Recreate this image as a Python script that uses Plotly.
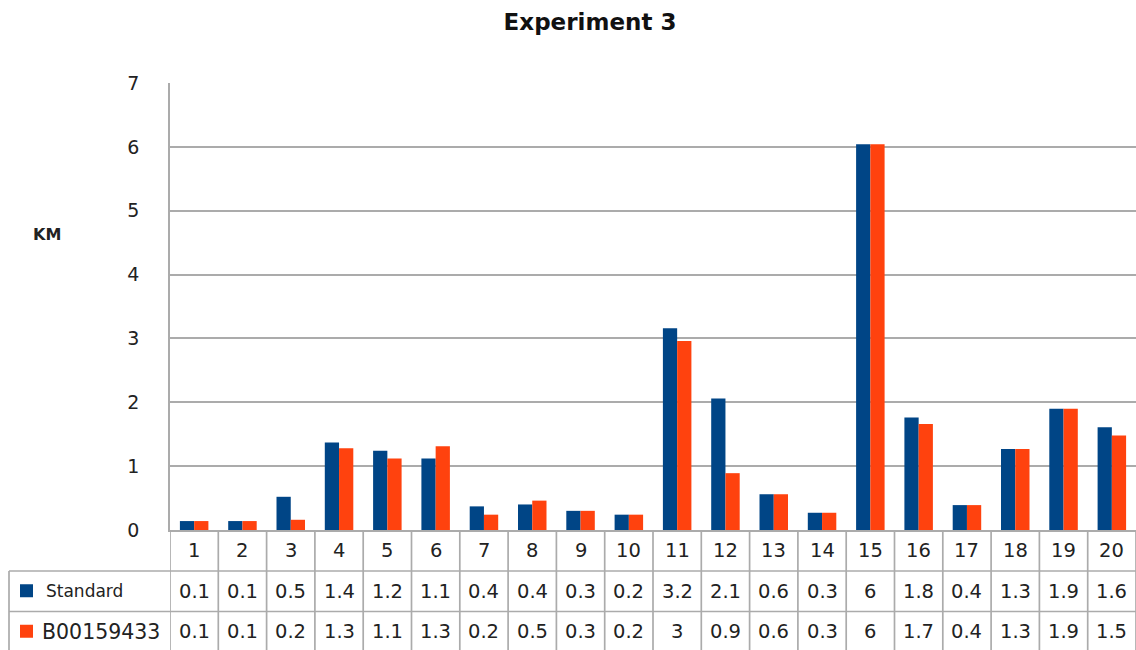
import plotly.graph_objects as go

categories = [str(i) for i in range(1, 21)]
series_names = ["Standard", "B00159433"]
standard = [0.14, 0.14, 0.52, 1.37, 1.24, 1.12, 0.37, 0.40, 0.30, 0.24,
            3.16, 2.06, 0.56, 0.27, 6.04, 1.76, 0.39, 1.27, 1.90, 1.61]
b00159433 = [0.14, 0.14, 0.16, 1.28, 1.12, 1.31, 0.24, 0.46, 0.30, 0.24,
             2.96, 0.89, 0.56, 0.27, 6.04, 1.66, 0.39, 1.27, 1.90, 1.48]
y_ticks = [0, 1, 2, 3, 4, 5, 6, 7]
colors = ["#004586", "#ff420e"]

W, H = 1136, 650
L, R, T, B = 170, 0, 83, 120
plot_h = H - T - B
plot_w = W - L - R
GRID = "#ababab"
TXT = "#222222"
FONT = "DejaVu Sans"


def py(px):
    """pixel y -> paper y"""
    return (H - B - px) / plot_h


def px_x(px):
    return (px - L) / plot_w


fig = go.Figure()
for name, vals, c in zip(series_names, [standard, b00159433], colors):
    fig.add_trace(go.Bar(x=categories, y=vals, name=name, marker_color=c,
                         marker_line_width=0, showlegend=False))

shapes = []
annotations = []

# table rows: header (categories), Standard, B00159433
row_edges = [530, 571, 611.5, 652]
row_centers = [(row_edges[i] + row_edges[i + 1]) / 2 for i in range(3)]

# horizontal table lines
for ye in row_edges[1:3]:
    shapes.append(dict(type="line", xref="paper", yref="paper",
                       x0=px_x(9), x1=1.0, y0=py(ye), y1=py(ye),
                       line=dict(color=GRID, width=1.7)))
# left border of label column
shapes.append(dict(type="line", xref="paper", yref="paper",
                   x0=px_x(9), x1=px_x(9), y0=py(row_edges[1]), y1=py(H + 2),
                   line=dict(color=GRID, width=1.7)))
# vertical lines at category boundaries (below the plot)
n = len(categories)
for k in range(n + 1):
    shapes.append(dict(type="line", xref="x", yref="paper",
                       x0=k - 0.5, x1=k - 0.5, y0=0, y1=py(H + 2),
                       line=dict(color=GRID, width=1.7)))

# header row: category labels
for k, c in enumerate(categories):
    annotations.append(dict(x=k, y=py(row_centers[0]), xref="x", yref="paper",
                            text=c, showarrow=False, xanchor="center", yanchor="middle",
                            font=dict(family=FONT, size=19.5, color=TXT)))
# value rows
for r, vals in enumerate([standard, b00159433]):
    for k, v in enumerate(vals):
        annotations.append(dict(x=k, y=py(row_centers[r + 1]), xref="x", yref="paper",
                                text=f"{round(v, 1):g}", showarrow=False,
                                xanchor="center", yanchor="middle",
                                font=dict(family=FONT, size=19.5, color=TXT)))

# legend keys in table
label_x = [44, 40]
label_size = [17, 20.5]
for r, (name, c) in enumerate(zip(series_names, colors)):
    yc = row_centers[r + 1]
    shapes.append(dict(type="rect", xref="paper", yref="paper",
                       x0=px_x(20), x1=px_x(33), y0=py(yc + 6), y1=py(yc - 7),
                       fillcolor=c, line=dict(width=0)))
    annotations.append(dict(x=px_x(label_x[r]), y=py(yc), xref="paper", yref="paper",
                            text=name, showarrow=False, xanchor="left", yanchor="middle",
                            font=dict(family=FONT, size=label_size[r], color=TXT)))

# y-axis title
annotations.append(dict(x=px_x(47), y=py(234), xref="paper", yref="paper",
                        text="<b>KM</b>", showarrow=False, xanchor="center", yanchor="middle",
                        font=dict(family=FONT, size=16, color=TXT)))

fig.update_layout(
    width=W, height=H,
    margin=dict(l=L, r=R, t=T, b=B, pad=0),
    paper_bgcolor="white", plot_bgcolor="white",
    title=dict(text="<b>Experiment 3</b>", x=590 / W, xref="container", xanchor="center",
               y=1 - 22 / H, yref="container", yanchor="middle",
               font=dict(family=FONT, size=23, color="#111111")),
    barmode="group", bargap=0.41, bargroupgap=0,
    shapes=shapes, annotations=annotations,
    xaxis=dict(type="category", range=[-0.5, n - 0.5], showticklabels=False,
               showgrid=False, zeroline=False, showline=True, linecolor=GRID,
               linewidth=1.7, ticks=""),
    yaxis=dict(range=[0, 7], tickvals=y_ticks, showgrid=True, gridcolor=GRID,
               gridwidth=1.7, zeroline=False, showline=True, linecolor=GRID,
               linewidth=1.7, ticks="outside", ticklen=25, tickcolor="rgba(0,0,0,0)",
               tickfont=dict(family=FONT, size=19, color=TXT)),
)

fig.write_html("out.html", config={"displayModeBar": False},
               post_script="document.body.style.margin='0';")
